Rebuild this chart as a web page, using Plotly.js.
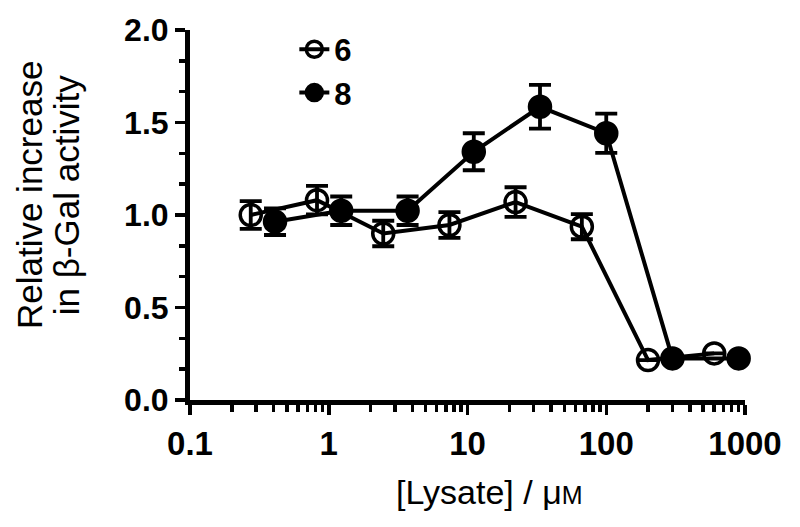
<!DOCTYPE html>
<html>
<head>
<meta charset="utf-8">
<script src="https://cdn.plot.ly/plotly-3.0.1.min.js"></script>
<style>
  html, body { margin: 0; padding: 0; background: #fff; }
  #chart { width: 800px; height: 527px; }
</style>
</head>
<body>
<div id="chart"></div>
<script>
// Lysate concentrations (uM) and relative beta-Gal activity
const conc6 = [0.274, 0.823, 2.47, 7.41, 22.2, 66.7, 200, 600];
const act6 = [1.00, 1.08, 0.90, 0.946, 1.07, 0.937, 0.216, 0.252];
const err6 = [0.075, 0.077, 0.069, 0.07, 0.08, 0.068, 0, 0];

const conc8 = [0.41, 1.23, 3.7, 11.1, 33.3, 100, 300, 900];
const act8 = [0.964, 1.023, 1.023, 1.342, 1.585, 1.442, 0.225, 0.225];
const err8 = [0.072, 0.077, 0.077, 0.10, 0.118, 0.106, 0, 0];

const xTicks = [0.1, 1, 10, 100, 1000];
const xTickText = ['0.1', '1', '10', '100', '1000'];

const fontFamily = 'Liberation Sans, Arial, sans-serif';

// minor log ticks 2..9 in each decade
const minorX = [];
for (let d = -1; d < 3; d++) {
    for (let k = 2; k <= 9; k++) {
        minorX.push(k * Math.pow(10, d));
    }
}

function makeTrace(x, y, err, name, symbol) {
    return {
        type: 'scatter',
        mode: 'lines+markers',
        x: x,
        y: y,
        name: name,
        cliponaxis: false,
        line: { color: '#000', width: 4 },
        marker: {
            symbol: symbol,
            size: 21,
            color: '#000',
            line: { color: '#000', width: 3.5 }
        },
        error_y: {
            type: 'data',
            array: err,
            visible: true,
            color: '#000',
            thickness: 3.8,
            width: 11
        }
    };
}

const data = [
    makeTrace(conc6, act6, err6, '6', 'circle-open'),
    makeTrace(conc8, act8, err8, '8', 'circle')
];

const layout = {
    width: 800,
    height: 527,
    margin: { l: 190, r: 55, t: 30, b: 127 },
    paper_bgcolor: '#fff',
    plot_bgcolor: '#fff',
    font: { family: fontFamily, color: '#000' },
    showlegend: true,
    legend: {
        x: 0.188,
        y: 1.02,
        xanchor: 'left',
        yanchor: 'top',
        bgcolor: 'rgba(0,0,0,0)',
        font: { size: 31, weight: 'bold', family: fontFamily, color: '#000' }
    },
    xaxis: {
        type: 'log',
        range: [-1, 3],
        showgrid: false,
        zeroline: false,
        showline: true,
        linecolor: '#000',
        linewidth: 5,
        ticks: 'outside',
        ticklen: 10,
        tickwidth: 3.5,
        tickcolor: '#000',
        tickvals: xTicks,
        ticktext: xTickText,
        tickfont: { size: 33, weight: 'bold', family: fontFamily, color: '#000' },
        minor: {
            tickvals: minorX,
            ticks: 'outside',
            ticklen: 7,
            tickwidth: 3.5,
            tickcolor: '#000',
            showgrid: false
        }
    },
    yaxis: {
        range: [0, 2],
        showgrid: false,
        zeroline: false,
        showline: true,
        linecolor: '#000',
        linewidth: 5,
        ticks: 'outside',
        ticklen: 10,
        tickwidth: 3.5,
        tickcolor: '#000',
        dtick: 0.5,
        tickformat: '.1f',
        tickfont: { size: 32, weight: 'bold', family: fontFamily, color: '#000' },
        minor: {
            dtick: 0.5 / 3,
            ticks: 'outside',
            ticklen: 6,
            tickwidth: 3.5,
            tickcolor: '#000',
            showgrid: false
        }
    },
    annotations: [
        {
            text: '[Lysate] / μ<span style="font-size:25px">M</span>',
            xref: 'paper', yref: 'paper',
            x: 0.54, y: -0.249,
            xanchor: 'center', yanchor: 'middle',
            showarrow: false,
            font: { size: 34, family: fontFamily, color: '#000' }
        },
        {
            text: 'Relative increase',
            xref: 'paper', yref: 'paper',
            x: -0.29, y: 0.554,
            xanchor: 'center', yanchor: 'middle',
            textangle: -90,
            showarrow: false,
            font: { size: 35, family: fontFamily, color: '#000' }
        },
        {
            text: 'in β-Gal activity',
            xref: 'paper', yref: 'paper',
            x: -0.223, y: 0.554,
            xanchor: 'center', yanchor: 'middle',
            textangle: -90,
            showarrow: false,
            font: { size: 35, family: fontFamily, color: '#000' }
        }
    ]
};

Plotly.newPlot('chart', data, layout, { displayModeBar: false, staticPlot: true });
</script>
</body>
</html>
